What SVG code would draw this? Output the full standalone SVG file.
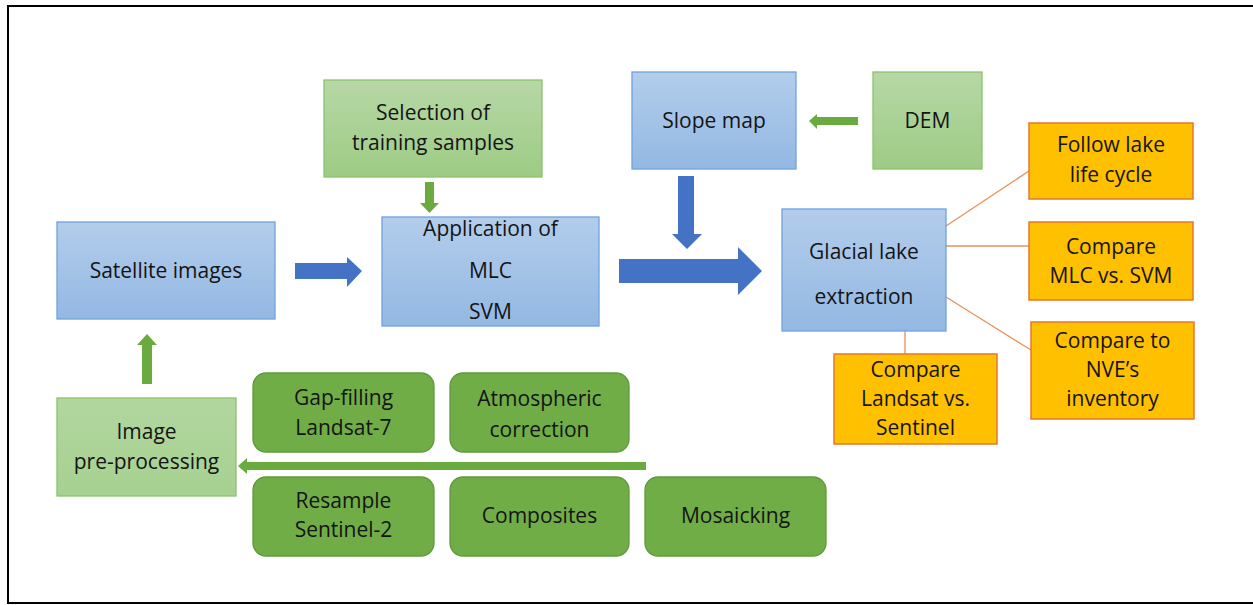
<svg xmlns="http://www.w3.org/2000/svg" width="1253" height="605" viewBox="0 0 1253 605">
<defs>
<linearGradient id="gBlue" x1="0" y1="0" x2="0" y2="1"><stop offset="0" stop-color="#B3CDEB"/><stop offset="1" stop-color="#93B8E3"/></linearGradient>
<linearGradient id="gGreen" x1="0" y1="0" x2="0" y2="1"><stop offset="0" stop-color="#B7D8A6"/><stop offset="1" stop-color="#9DCB84"/></linearGradient>
<linearGradient id="gGreen2" x1="0" y1="0" x2="0" y2="1"><stop offset="0" stop-color="#B2D69F"/><stop offset="1" stop-color="#A6D190"/></linearGradient>
</defs>
<style>
.blue{fill:url(#gBlue);stroke:#6FA3DC;stroke-width:1.3}
.lgreen{fill:url(#gGreen);stroke:#8CC26C;stroke-width:1.3}
.lgreen2{fill:url(#gGreen2);stroke:#8CC26C;stroke-width:1.3}
.dgreen{fill:#70AD47;stroke:#5F9A3C;stroke-width:1.3}
.orange{fill:#FFC000;stroke:#E4782F;stroke-width:1.5}
.t{font-family:"Open Sans","Noto Sans",sans-serif;font-size:21px;fill:#141414;text-anchor:middle}
.ab{fill:#4472C4}
.ag{fill:#6AAB3F}
.ln{stroke:#E9905A;stroke-width:1.3;fill:none}
</style>
<path d="M1253 6 H8 V603 H1253" fill="none" stroke="#000" stroke-width="2"/>
<g id="connectors">
<polygon class="ag" points="425,182 434,182 434,203 439,203 429.5,213 420,203 425,203"/>
<polygon class="ab" points="295,263 347,263 347,257 362,271 347,287 347,279 295,279"/>
<polygon class="ab" points="619,259 738,259 738,247 762,271 738,295 738,283 619,283"/>
<polygon class="ab" points="678,176 694,176 694,234 702,234 687,249 672,234 678,234"/>
<polygon class="ag" points="858,117 858,125 817,125 817,129 809,121 817,114 817,117"/>
<polygon class="ag" points="142,384 152,384 152,345 157,345 147,334 137,345 142,345"/>
<polygon class="ag" points="646,462 646,470 247,470 247,474 238,466 247,458 247,462"/>
<line class="ln" x1="946" y1="226" x2="1029" y2="171"/>
<line class="ln" x1="946" y1="246" x2="1029" y2="246"/>
<line class="ln" x1="946" y1="297" x2="1031" y2="350"/>
<line class="ln" x1="905" y1="331" x2="905" y2="354"/>
</g>
<g id="selection"><rect class="lgreen" x="324" y="80" width="218" height="97"/><text class="t" x="433" y="120">Selection of</text><text class="t" x="433" y="150">training samples</text></g>
<g id="application"><rect class="blue" x="382" y="217" width="217" height="109"/><text class="t" x="490.5" y="236">Application of</text><text class="t" x="490.5" y="278">MLC</text><text class="t" x="490.5" y="319">SVM</text></g>
<g id="satellite"><rect class="blue" x="57" y="222" width="218" height="97"/><text class="t" x="166" y="278">Satellite images</text></g>
<g id="slope"><rect class="blue" x="632" y="72" width="164" height="97"/><text class="t" x="714" y="128">Slope map</text></g>
<g id="dem"><rect class="lgreen" x="873" y="72" width="109" height="97"/><text class="t" x="927.5" y="128">DEM</text></g>
<g id="glacial"><rect class="blue" x="782" y="209" width="164" height="122"/><text class="t" x="864" y="259">Glacial lake</text><text class="t" x="864" y="304">extraction</text></g>
<g id="follow"><rect class="orange" x="1029" y="123" width="164" height="76"/><text class="t" x="1111" y="152">Follow lake</text><text class="t" x="1111" y="182">life cycle</text></g>
<g id="comparemlc"><rect class="orange" x="1029" y="222" width="164" height="78"/><text class="t" x="1111" y="254">Compare</text><text class="t" x="1111" y="283">MLC vs. SVM</text></g>
<g id="comparenve"><rect class="orange" x="1031" y="322" width="163" height="97"/><text class="t" x="1112.5" y="348">Compare to</text><text class="t" x="1112.5" y="377">NVE’s</text><text class="t" x="1112.5" y="406">inventory</text></g>
<g id="comparelandsat"><rect class="orange" x="834" y="354" width="163" height="90"/><text class="t" x="915.5" y="377">Compare</text><text class="t" x="915.5" y="406">Landsat vs.</text><text class="t" x="915.5" y="435">Sentinel</text></g>
<g id="preprocessing"><rect class="lgreen2" x="57" y="398" width="179" height="98"/><text class="t" x="146.5" y="439">Image</text><text class="t" x="146.5" y="469">pre-processing</text></g>
<g id="gapfilling"><rect class="dgreen" x="253" y="373" width="181" height="79" rx="13"/><text class="t" x="343.5" y="405">Gap-filling</text><text class="t" x="343.5" y="435">Landsat-7</text></g>
<g id="atmospheric"><rect class="dgreen" x="450" y="373" width="179" height="79" rx="13"/><text class="t" x="539.5" y="406">Atmospheric</text><text class="t" x="539.5" y="437">correction</text></g>
<g id="resample"><rect class="dgreen" x="253" y="477" width="181" height="79" rx="13"/><text class="t" x="343.5" y="508">Resample</text><text class="t" x="343.5" y="537">Sentinel-2</text></g>
<g id="composites"><rect class="dgreen" x="450" y="477" width="179" height="79" rx="13"/><text class="t" x="539.5" y="523">Composites</text></g>
<g id="mosaicking"><rect class="dgreen" x="645" y="477" width="181" height="79" rx="13"/><text class="t" x="735.5" y="523">Mosaicking</text></g>
</svg>
